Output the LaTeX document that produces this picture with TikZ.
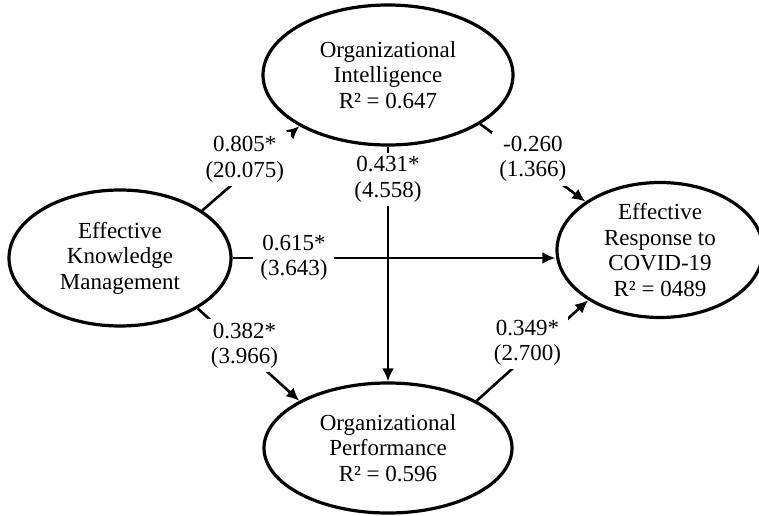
\documentclass[tikz,border=0pt]{standalone}
\usepackage{fontspec}
\setmainfont{Liberation Serif}
\usetikzlibrary{shapes.geometric,arrows.meta,positioning}
\tikzstyle{latent} = [draw, ellipse, line width=3.2pt, inner sep=0pt, align=center]
\tikzstyle{coef} = [fill=white, align=center, inner xsep=7pt, inner ysep=4pt]

\begin{document}
\begin{tikzpicture}[x=1pt, y=1pt, line width=2.6pt, >={Latex[length=13pt,width=12pt]}, font=\fontsize{23}{25.5}\selectfont]

\useasboundingbox (0,0) rectangle (759,515);

\node [latent, minimum width=222pt, minimum height=136pt] (ekm) at (120,257) {Effective\\Knowledge\\Management};
\node [latent, right of=ekm, node distance=268pt, yshift=183pt, minimum width=250pt, minimum height=140pt] (oi) {Organizational\\Intelligence\\R² = 0.647};
\node [latent, below of=oi, node distance=373pt, minimum width=248pt, minimum height=130pt] (op) {Organizational\\Performance\\R² = 0.596};
\node [latent, right of=ekm, node distance=540pt, yshift=8pt, minimum width=206pt, minimum height=135pt] (erc) {Effective\\Response to\\COVID-19\\R² = 0489};

% paths from knowledge management
\draw [->] (ekm.30) -- node [coef, xshift=-6pt, yshift=9pt] {0.805*\\(20.075)} (oi.210);
\draw [->] (ekm.east) -- node [coef, pos=0.19] {0.615*\\(3.643)} (ekm.east -| erc.west);
\draw [->] (ekm.-33) -- node [coef, xshift=-4pt, yshift=9pt] {0.382*\\(3.966)} (op.152);

% paths from intelligence
\draw [->] (oi) -- node [coef, pos=0.14] {0.431*\\(4.558)} (op);
\draw [->] (oi.-28) -- node [coef, yshift=4pt] {-0.260\\(1.366)} (erc.147);

% path from performance
\draw [->] (op.28) -- node [coef, xshift=-5pt, yshift=8pt] {0.349*\\(2.700)} (erc.215);

\end{tikzpicture}
\end{document}
